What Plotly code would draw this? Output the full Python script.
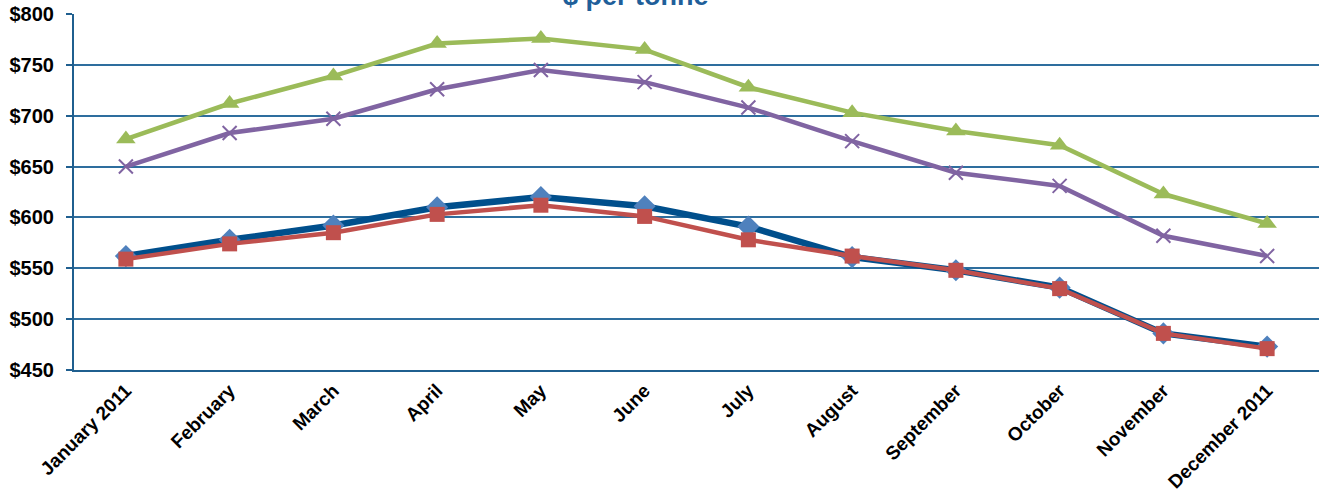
import plotly.graph_objects as go

months = ["January 2011", "February", "March", "April", "May", "June", "July",
          "August", "September", "October", "November", "December 2011"]
series_blue = [562, 578, 592, 610, 620, 611, 591, 561, 548, 531, 486, 473]
series_red = [559, 574, 585, 603, 612, 601, 578, 562, 548, 530, 486, 471]
series_green = [677, 712, 739, 771, 776, 765, 728, 703, 685, 671, 623, 594]
series_purple = [650, 683, 697, 726, 745, 733, 708, 675, 644, 631, 582, 562]
y_ticks = [450, 500, 550, 600, 650, 700, 750, 800]
y_tick_labels = ["$" + str(v) for v in y_ticks]

fig = go.Figure()
fig.add_trace(go.Scatter(x=months, y=series_blue, mode="lines+markers",
                         line=dict(color="#004F8C", width=6.5),
                         marker=dict(symbol="diamond", size=17, color="#4F81BD"),
                         showlegend=False))
fig.add_trace(go.Scatter(x=months, y=series_red, mode="lines+markers",
                         line=dict(color="#C0504D", width=4.5),
                         marker=dict(symbol="square", size=15, color="#C0504D"),
                         showlegend=False))
fig.add_trace(go.Scatter(x=months, y=series_green, mode="lines+markers",
                         line=dict(color="#9BBB59", width=4.5),
                         marker=dict(symbol="triangle-up", size=17, color="#9BBB59"),
                         showlegend=False))
fig.add_trace(go.Scatter(x=months, y=series_purple, mode="lines+markers",
                         line=dict(color="#8064A2", width=4.5),
                         marker=dict(symbol="x-thin", size=14, color="#8064A2",
                                     line=dict(color="#8064A2", width=2)),
                         showlegend=False))

fig.add_annotation(text="<b>$ per tonne</b>", x=(636 - 74) / (1319 - 74), xref="paper",
                   y=1, yref="paper", xanchor="center", yanchor="bottom", yshift=1,
                   showarrow=False,
                   font=dict(family="Liberation Sans, Arial", size=27, color="#1F5F9A"))

fig.update_layout(
    width=1320, height=495,
    margin=dict(l=74, r=1, t=14, b=125),
    paper_bgcolor="white", plot_bgcolor="white",
    font=dict(family="Liberation Sans, Arial", size=19, color="black"),
)
fig.update_xaxes(
    type="category", tickangle=-45, showgrid=False, automargin=False,
    showline=True, linecolor="#1F5F8F", linewidth=2,
    tickfont=dict(size=19, family="Liberation Sans, Arial", color="black", weight="bold"),
    ticks="", range=[-0.5, 11.5],
)
fig.update_yaxes(
    range=[450, 800], tickvals=y_ticks, ticktext=y_tick_labels, automargin=False,
    showgrid=True, gridcolor="#2E6E9E", gridwidth=1.5,
    showline=True, linecolor="#1F5F8F", linewidth=2,
    ticks="outside", ticklen=6, tickcolor="#1F5F8F", tickwidth=2,
    ticklabelstandoff=8,
    tickfont=dict(size=20, family="Liberation Sans, Arial", color="black", weight="bold"),
    zeroline=False,
)

fig.write_html("out.html")
